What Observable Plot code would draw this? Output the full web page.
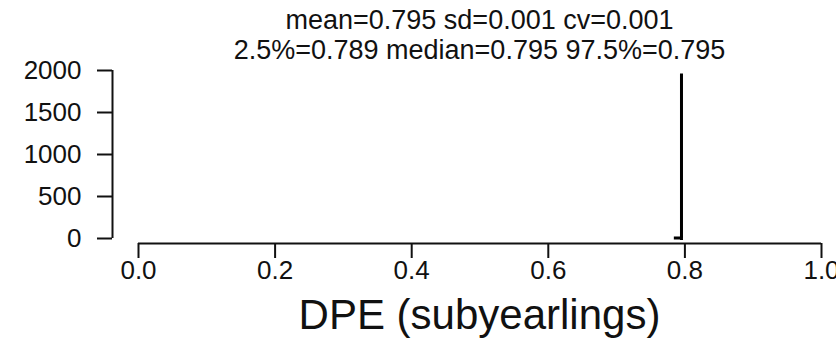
<!DOCTYPE html>
<html>
<head>
<meta charset="utf-8">
<script src="https://cdn.jsdelivr.net/npm/d3@7"></script>
<script src="https://cdn.jsdelivr.net/npm/@observablehq/plot@0.6"></script>
<style>
  html, body { margin: 0; padding: 0; background: #fff; }
  #wrap { position: relative; width: 836px; height: 360px; overflow: hidden; font-family: "Liberation Sans", Arial, sans-serif; color: #111; }
  .lbl { position: absolute; left: 138px; width: 683px; text-align: center; white-space: nowrap; line-height: 1; }
  #t1 { top: 7px; font-size: 27px; }
  #t2 { top: 37px; font-size: 27px; }
  #xl { top: 294px; font-size: 42px; }
  svg { position: absolute; left: 0; top: 0; }
</style>
</head>
<body>
<div id="wrap">
  <div class="lbl" id="t1"></div>
  <div class="lbl" id="t2"></div>
  <div class="lbl" id="xl"></div>
</div>
<script>
// Posterior sample summary for DPE (subyearlings)
const summaryLine1 = "mean=0.795 sd=0.001 cv=0.001";
const summaryLine2 = "2.5%=0.789 median=0.795 97.5%=0.795";
const xLabel = "DPE (subyearlings)";

// Frequency outline of the sampled values
const dpeValues = [0.786, 0.795, 0.795, 0.795];
const frequency = [5, 5, 1964, 0];

const xTicks = [0, 0.2, 0.4, 0.6, 0.8, 1.0];
const yTicks = [0, 500, 1000, 1500, 2000];

const outline = dpeValues.map((x, i) => ({x, y: frequency[i]}));

document.getElementById("t1").textContent = summaryLine1;
document.getElementById("t2").textContent = summaryLine2;
document.getElementById("xl").textContent = xLabel;

const chart = Plot.plot({
  width: 836,
  height: 360,
  marginLeft: 112,
  marginBottom: 117,
  marginTop: 0,
  marginRight: 0,
  style: {fontSize: "26px", fontFamily: "Liberation Sans, Arial, sans-serif", color: "#111", background: "transparent", overflow: "hidden"},
  x: {domain: [0, 1], range: [138, 821]},
  y: {domain: [0, 2000], range: [238, 70]},
  marks: [
    // offset axis lines spanning only the tick range
    Plot.ruleY([0], {x1: xTicks[0], x2: xTicks[xTicks.length - 1], dy: 5, stroke: "#111", strokeWidth: 2}),
    Plot.ruleX([0], {y1: yTicks[0], y2: yTicks[yTicks.length - 1], dx: -26, stroke: "#111", strokeWidth: 2}),
    Plot.axisX({ticks: xTicks, tickFormat: d3.format(".1f"), tickSize: 15, tickPadding: 2, strokeWidth: 2, stroke: "#111", label: null}),
    Plot.axisY({ticks: yTicks, tickFormat: d => String(d), tickSize: 15, tickPadding: 16, strokeWidth: 2, stroke: "#111", label: null}),
    Plot.line(outline, {x: "x", y: "y", stroke: "#000", strokeWidth: 3, strokeLinejoin: "miter", strokeLinecap: "square"})
  ]
});
document.getElementById("wrap").appendChild(chart);
</script>
</body>
</html>
